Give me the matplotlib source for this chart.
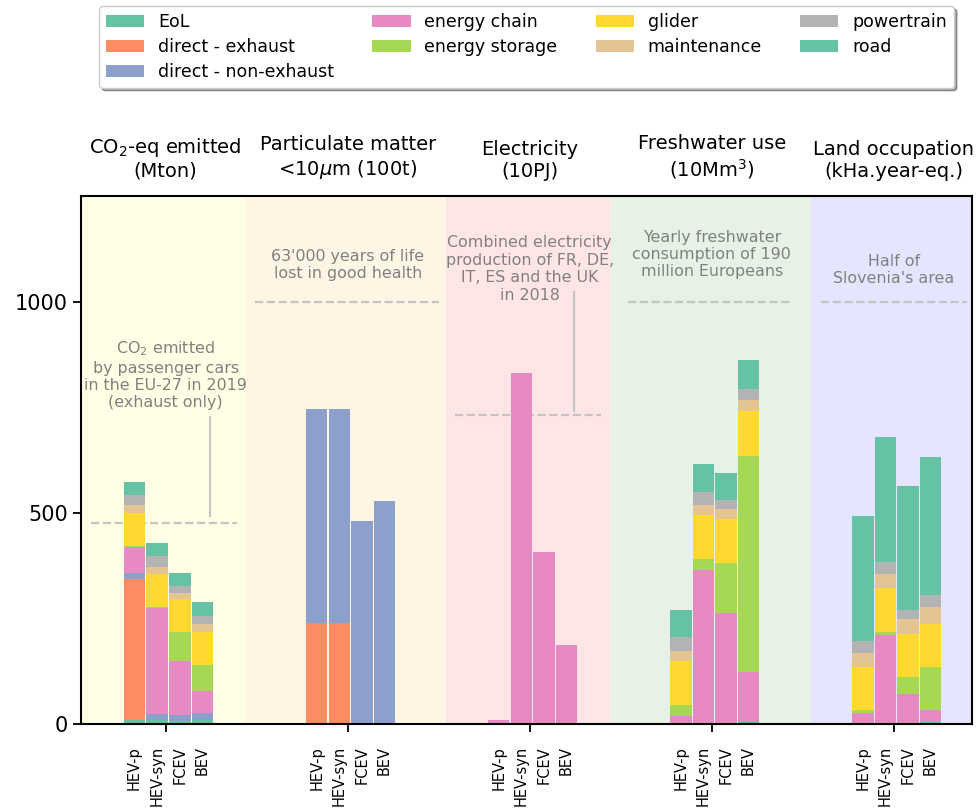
import matplotlib.pyplot as plt
import numpy as np

vehicles = ['HEV-p', 'HEV-syn', 'FCEV', 'BEV']
components = ['EoL', 'direct - exhaust', 'direct - non-exhaust', 'energy chain',
              'energy storage', 'glider', 'maintenance', 'powertrain', 'road']
indicators = ['CO$_2$-eq emitted\n(Mton)', 'Particulate matter\n<10$\\mu$m (100t)',
              'Electricity\n(10PJ)', 'Freshwater use\n(10Mm$^3$)',
              'Land occupation\n(kHa.year-eq.)']

# stacked contributions: one row per component, one column per vehicle
co2 = [
    [10, 10, 8, 10],
    [334, 0, 0, 0],
    [14, 14, 13, 15],
    [61, 251, 128, 54],
    [2, 3, 68, 60],
    [79, 78, 78, 79],
    [18, 16, 16, 19],
    [24, 25, 17, 19],
    [32, 31, 29, 34],
]
pm10 = [
    [0, 0, 0, 0],
    [240, 240, 0, 0],
    [507, 507, 480, 528],
    [0, 0, 0, 0],
    [0, 0, 0, 0],
    [0, 0, 0, 0],
    [0, 0, 0, 0],
    [0, 0, 0, 0],
    [0, 0, 0, 0],
]
electricity = [
    [0, 0, 0, 0],
    [0, 0, 0, 0],
    [0, 0, 0, 0],
    [10, 831, 408, 186],
    [0, 0, 0, 0],
    [0, 0, 0, 0],
    [0, 0, 0, 0],
    [0, 0, 0, 0],
    [0, 0, 0, 0],
]
water = [
    [0, 0, 0, 8],
    [0, 0, 0, 0],
    [0, 0, 0, 0],
    [19, 364, 264, 116],
    [26, 27, 118, 512],
    [105, 105, 103, 105],
    [23, 23, 24, 26],
    [32, 31, 21, 26],
    [64, 67, 65, 69],
]
land = [
    [0, 0, 0, 5],
    [0, 0, 0, 0],
    [0, 0, 0, 0],
    [25, 211, 70, 27],
    [8, 8, 42, 103],
    [102, 102, 102, 103],
    [34, 35, 34, 40],
    [28, 27, 23, 27],
    [296, 297, 293, 328],
]

# reference quantities drawn as dashed lines
ref_values = [475, 1000, 731, 1000, 1000]
ref_texts = [
    'CO$_2$ emitted\nby passenger cars\nin the EU-27 in 2019\n(exhaust only)',
    "63'000 years of life\nlost in good health",
    'Combined electricity\nproduction of FR, DE,\nIT, ES and the UK\nin 2018',
    'Yearly freshwater\nconsumption of 190\nmillion Europeans',
    "Half of\nSlovenia's area",
]

colors = ['#66c2a5', '#fc8d62', '#8da0cb', '#e78ac3', '#a6d854',
          '#ffd92f', '#e5c494', '#b3b3b3', '#66c2a5']
span_colors = ['yellow', 'orange', 'red', 'green', 'blue']
span_edges = [-0.464, 0.44, 1.54, 2.444, 3.547, 4.43]
ref_x = [(-0.41, 0.39), (-0.51, 0.50), (-0.41, 0.39), (-0.46, 0.44), (-0.40, 0.40)]
ref_text_y = [827, 1088, 1078, 1112, 1076]

fig = plt.figure(figsize=(9.77, 8.08), dpi=100)
ax = fig.add_axes([0.083, 0.104, 0.912, 0.653])

data = [co2, pm10, electricity, water, land]
groups = np.arange(len(data))
step = 0.124
width = step - 0.006
offsets = (np.arange(len(vehicles)) - 1.5) * step + 0.016

for i, lo, hi in zip(groups, span_edges[:-1], span_edges[1:]):
    ax.axvspan(lo, hi, color=span_colors[i], alpha=0.1, lw=0, zorder=0)

handles = []
for g, values in zip(groups, data):
    values = np.array(values, dtype=float)
    bottom = np.zeros(len(vehicles))
    for k, name in enumerate(components):
        bars = ax.bar(g + offsets, values[k], width, bottom=bottom, color=colors[k],
                      linewidth=0, label=name, zorder=2)
        if g == 0:
            handles.append(bars)
        bottom += values[k]

for g in groups:
    x0, x1 = ref_x[g]
    ax.plot([g + x0, g + x1], [ref_values[g]] * 2, ls='--', lw=1.6,
            color='#c4c4c4', zorder=1)
    ax.text(g, ref_text_y[g], ref_texts[g], ha='center',
            va='center', fontsize=11.4, color='gray', zorder=3)
    ax.text(g, 1.03, indicators[g], transform=ax.get_xaxis_transform(),
            ha='center', va='bottom', fontsize=14)

# leader lines from the notes down to their reference level
ax.plot([0.245, 0.245], [492, 727], color='#c4c4c4', lw=1.5, zorder=1)
ax.plot([2.244, 2.244], [741, 1024], color='#c4c4c4', lw=1.5, zorder=1)

ax.set_xlim(span_edges[0], span_edges[-1])
ax.set_ylim(0, 1250)
ax.set_yticks([0, 500, 1000])
ax.tick_params(axis='y', labelsize=15, length=6, width=1.3)
ax.set_xticks(groups)
ax.set_xticklabels([])
ax.tick_params(axis='x', which='major', length=6, width=1.3)
minor_pos = np.concatenate([g + offsets for g in groups])
ax.set_xticks(minor_pos, vehicles * len(groups), minor=True)
ax.tick_params(axis='x', which='minor', length=0, labelsize=10.5,
               labelrotation=90, pad=16)
for s in ax.spines.values():
    s.set_linewidth(1.5)

ax.legend(handles=handles, loc='upper center', bbox_to_anchor=(0.5, 1.377),
          ncol=4, fontsize=12.5, shadow=True, columnspacing=2.2,
          handlelength=2.2, labelspacing=0.4)

fig.savefig('out.png', dpi=100)
